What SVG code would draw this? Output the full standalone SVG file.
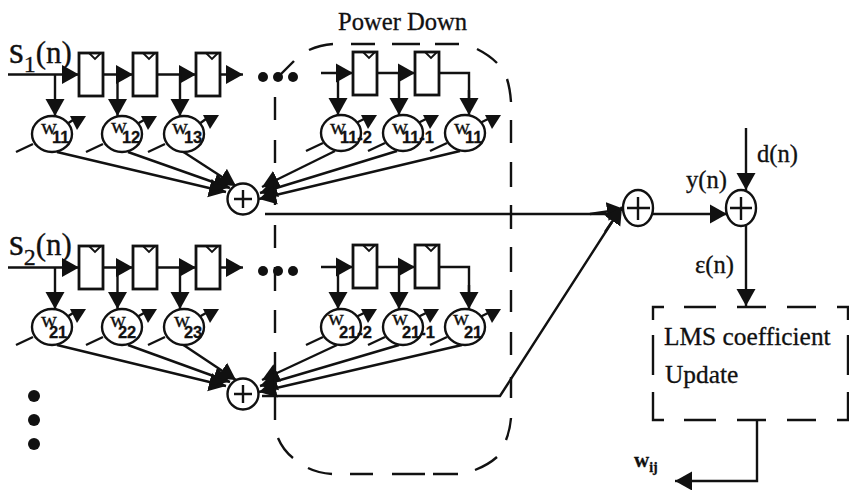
<svg xmlns="http://www.w3.org/2000/svg" width="849" height="490" viewBox="0 0 849 490">
<style>
.ln{fill:none;stroke:#111;stroke-width:2.4}
.ar{fill:none;stroke:#111;stroke-width:2.4;marker-end:url(#head)}
.dash{fill:none;stroke:#111;stroke-width:2.4}
.reg{fill:#fff;stroke:#111;stroke-width:2.8}
.notch{fill:none;stroke:#111;stroke-width:1.8}
.nd{fill:#fff;stroke:#111;stroke-width:2.4}
.tri{fill:#111;stroke:none}
.dot{fill:#111}
text{font-family:"Liberation Serif","Times New Roman",serif;fill:#111;stroke:#111;stroke-width:.3}
.wt{font-size:22px}
.sb{font-family:"Liberation Sans",Arial,sans-serif;font-size:16.5px;font-weight:bold}
.big{font-size:31px}
.lab{font-size:24.6px}
.lms{font-size:25.4px}
</style>
<defs>
<marker id="head" markerUnits="userSpaceOnUse" markerWidth="20" markerHeight="20" refX="17" refY="10" orient="auto"><path d="M0 0.5L17 10L0 19.5Z" fill="#111"/></marker>
<g id="register"><rect class="reg" x="0" y="0" width="24" height="43"/><path class="notch" d="M10 0L16 6L22 0"/></g>
<g id="wcirc"><ellipse class="nd" cx="0" cy="0" rx="20" ry="18"/></g>
<path id="tiny" class="tri" d="M0 0H16L7 14Z"/>
</defs>
<rect width="849" height="490" fill="#fff"/>

<g id="connectors">
<path class="ln" d="M8 74.5H62M103 74.5H117M157 74.5H180M220 74.5H227M321 73H337M377 73H399M439 73H469V100"/>
<path class="ar" d="M62 74.5H79"/><path class="ar" d="M117 74.5H133"/><path class="ar" d="M180 74.5H196"/><path class="ar" d="M227 74.5H243"/>
<path class="ar" d="M337 73H353"/><path class="ar" d="M399 73H415"/>
<path class="ar" d="M55 74.5V116"/><path class="ar" d="M117.5 74.5V116"/><path class="ar" d="M180 74.5V116"/>
<path class="ar" d="M338 73V115"/><path class="ar" d="M399 73V115"/><path class="ar" d="M469 90V115"/>
<path class="ln" d="M16 152L33 144M86 152L103 144M148 152L165 144M306 151L323 143M368 151L385 143M430 151L447 143"/>
<path class="ln" d="M278 77L294 61"/>
<path class="ln" d="M67 124L73 120M137 124L144 120M199 124L206 119M356 123L364 119M418 123L426 119M480 123L488 119"/>
<path class="ar" d="M57 152L226 192"/><path class="ar" d="M128 152L230 188"/><path class="ar" d="M182 151L236 186"/>
<path class="ar" d="M335 151L262 187"/><path class="ar" d="M397 151L260 193"/><path class="ar" d="M460 151L259 199"/>
<path class="ln" d="M8 267.5H62M103 267.5H117M157 267.5H180M220 267.5H227M321 267H337M377 267H399M439 267H469V295"/>
<path class="ar" d="M62 267.5H79"/><path class="ar" d="M117 267.5H133"/><path class="ar" d="M180 267.5H196"/><path class="ar" d="M227 267.5H243"/>
<path class="ar" d="M337 267H353"/><path class="ar" d="M399 267H415"/>
<path class="ar" d="M55 267.5V309"/><path class="ar" d="M117.5 267.5V309"/><path class="ar" d="M180 267.5V309"/>
<path class="ar" d="M338 267V309"/><path class="ar" d="M399 267V309"/><path class="ar" d="M469 285V309"/>
<path class="ln" d="M16 345L33 337M86 345L103 337M148 345L165 337M306 345L323 337M368 345L385 337M430 345L447 337"/>
<path class="ln" d="M67 317L73 313M137 317L144 313M199 317L206 313M356 317L364 313M418 317L426 313M480 317L488 313"/>
<path class="ar" d="M57 345L226 386"/><path class="ar" d="M128 345L230 382"/><path class="ar" d="M182 344L236 380"/>
<path class="ar" d="M337 345L262 380"/><path class="ar" d="M399 345L260 386"/><path class="ar" d="M462 345L259 392"/>
<path class="ln" d="M265 214H612"/>
<path class="ar" d="M590 214L624 209"/>
<path class="ln" d="M262 396H500L612 222"/>
<path class="ar" d="M605 232L622 207"/>
<path class="ar" d="M653 214H727"/>
<path class="ar" d="M746 128V190"/>
<path class="ar" d="M746 226V306"/>
<path class="ln" d="M757 420V481H690"/>
<path class="ar" d="M692 481H675"/>
</g>

<g id="power-down">
<path class="dash" d="M309 50Q320 45 333 44M351 44H375M392 44H420M435 44H459M477 49Q489 55 497 63M507 79Q510 88 511 102M511 120V143M511 162V187M511 205V229M511 247V272M511 290V312M511 332V355M511 377V398M511 418Q510 430 506 440M497 457Q488 465 475 470M458 474H433M425 474H392M373 474H350M332 474Q318 473 308 468M293 458Q283 450 278 438M275 420V352M275 333V310M275 291V267M275 248V225M275 205V183M275 163V140M275 120V97"/>
</g>
<g id="lms-box">
<path class="dash" d="M653 320V307H664M684 307H716M737 307H766M787 307H816M837 307H848V320M653 335V375M653 392V420H664M684 420H716M737 420H766M787 420H816M837 420H848V392M848 375V335"/>
<text class="lms" x="664" y="345">LMS coefficient</text>
<text class="lms" x="665" y="383">Update</text>
</g>

<g id="s1"><text class="big" x="9" y="63"><tspan font-size="38">s</tspan><tspan font-size="24" dy="9">1</tspan><tspan dy="-9">(n)</tspan></text></g>
<g id="s2"><text class="big" x="9" y="255"><tspan font-size="38">s</tspan><tspan font-size="24" dy="10">2</tspan><tspan dy="-10">(n)</tspan></text></g>

<g id="r11"><use href="#register" x="79" y="53"/></g>
<g id="r12"><use href="#register" x="133" y="53"/></g>
<g id="r13"><use href="#register" x="196" y="53"/></g>
<g id="r14"><use href="#register" x="353" y="52"/></g>
<g id="r15"><use href="#register" x="415" y="52"/></g>
<g id="r21"><use href="#register" x="79" y="246"/></g>
<g id="r22"><use href="#register" x="133" y="246"/></g>
<g id="r23"><use href="#register" x="196" y="246"/></g>
<g id="r24"><use href="#register" x="353" y="245"/></g>
<g id="r25"><use href="#register" x="415" y="245"/></g>

<g id="dots1"><circle class="dot" cx="263" cy="77" r="5"/><circle class="dot" cx="278" cy="77" r="5"/><circle class="dot" cx="293" cy="77" r="5"/></g>
<g id="dots2"><circle class="dot" cx="263" cy="271" r="5"/><circle class="dot" cx="278" cy="271" r="5"/><circle class="dot" cx="293" cy="271" r="5"/></g>
<g id="dots3"><circle class="dot" cx="34" cy="396" r="6"/><circle class="dot" cx="34" cy="420" r="6"/><circle class="dot" cx="34" cy="444" r="6"/></g>

<g id="w11"><use href="#wcirc" x="52" y="134"/><use href="#tiny" x="70" y="116"/><text class="wt" x="41" y="134">w<tspan class="sb" dx="-5" dy="9">11</tspan></text></g>
<g id="w12"><use href="#wcirc" x="122" y="134"/><use href="#tiny" x="141" y="116"/><text class="wt" x="111" y="133">w<tspan class="sb" dx="-5" dy="10">12</tspan></text></g>
<g id="w13"><use href="#wcirc" x="184" y="134"/><use href="#tiny" x="203" y="115"/><text class="wt" x="172" y="134">w<tspan class="sb" dx="-4" dy="9">13</tspan></text></g>
<g id="w14"><use href="#wcirc" x="341" y="133"/><use href="#tiny" x="361" y="115"/><text class="wt" x="330" y="134">w<tspan class="sb" dx="-6" dy="9">11-2</tspan></text></g>
<g id="w15"><use href="#wcirc" x="403" y="133"/><use href="#tiny" x="423" y="115"/><text class="wt" x="392" y="134">w<tspan class="sb" dx="-6" dy="9">11-1</tspan></text></g>
<g id="w16"><use href="#wcirc" x="465" y="133"/><use href="#tiny" x="485" y="115"/><text class="wt" x="454" y="134">w<tspan class="sb" dx="-5" dy="9">11</tspan></text></g>
<g id="w21"><use href="#wcirc" x="52" y="327"/><use href="#tiny" x="70" y="309"/><text class="wt" x="41" y="327">w<tspan class="sb" dx="-8" dy="11">21</tspan></text></g>
<g id="w22"><use href="#wcirc" x="122" y="327"/><use href="#tiny" x="141" y="309"/><text class="wt" x="110" y="327">w<tspan class="sb" dx="-8" dy="11">22</tspan></text></g>
<g id="w23"><use href="#wcirc" x="184" y="327"/><use href="#tiny" x="203" y="309"/><text class="wt" x="174" y="327">w<tspan class="sb" dx="-6" dy="11">23</tspan></text></g>
<g id="w24"><use href="#wcirc" x="341" y="327"/><use href="#tiny" x="361" y="309"/><text class="wt" x="328" y="325">w<tspan class="sb" dx="-5" dy="13">21-2</tspan></text></g>
<g id="w25"><use href="#wcirc" x="403" y="327"/><use href="#tiny" x="423" y="309"/><text class="wt" x="392" y="325">w<tspan class="sb" dx="-6" dy="13">21-1</tspan></text></g>
<g id="w26"><use href="#wcirc" x="465" y="327"/><use href="#tiny" x="485" y="309"/><text class="wt" x="453" y="325">w<tspan class="sb" dx="-5" dy="13">21</tspan></text></g>

<g id="add1"><circle class="nd" cx="243" cy="199" r="15.5"/><path class="ln" d="M234 199H252M243 190V208"/></g>
<g id="add2"><circle class="nd" cx="243" cy="394" r="15.5"/><path class="ln" d="M234 394H252M243 385V403"/></g>
<g id="add3"><ellipse class="nd" cx="638" cy="208" rx="15" ry="18"/><path class="ln" d="M627 208H650M638 197V220"/></g>
<g id="add4"><ellipse class="nd" cx="741" cy="208" rx="15" ry="18"/><path class="ln" d="M730 208H752M741 197V220"/></g>

<g id="labels">
<text class="lab" x="338" y="30">Power Down</text>
<text class="lab" x="757" y="162">d(n)</text>
<text class="lab" x="686" y="188">y(n)</text>
<text class="lab" x="695" y="273">ε(n)</text>
<text x="634" y="467" font-size="21" font-weight="bold">w<tspan font-size="14" dy="5">ij</tspan></text>
</g>
</svg>
